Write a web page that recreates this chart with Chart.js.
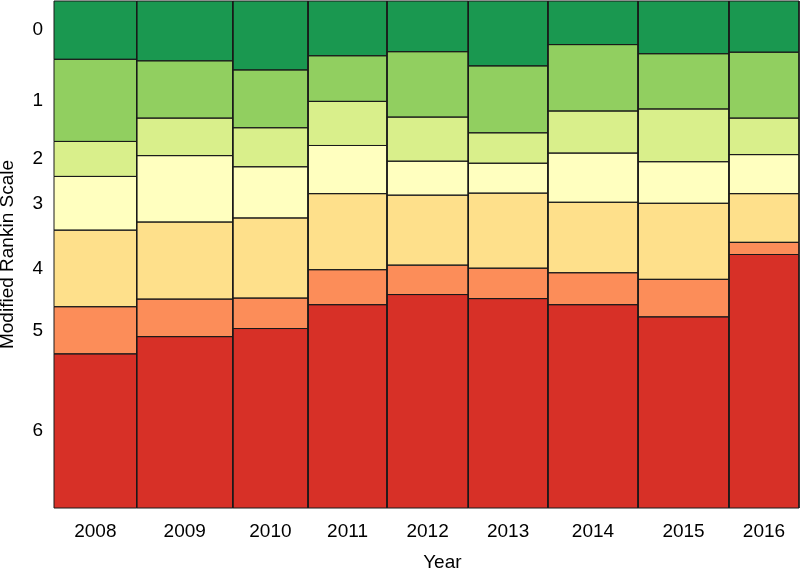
<!DOCTYPE html>
<html>
<head>
<meta charset="utf-8">
<script src="https://cdn.jsdelivr.net/npm/chart.js@4/dist/chart.umd.min.js"></script>
<style>
  html, body { margin: 0; padding: 0; background: #fff; }
</style>
</head>
<body>
<canvas id="chart" width="800" height="568"></canvas>
<script>
// Spine plot: bar width = share of patients per year, height = mRS distribution (%)
const years = ["2008", "2009", "2010", "2011", "2012", "2013", "2014", "2015", "2016"];
const yearShare = [11.1, 12.9, 10.1, 10.6, 10.9, 10.7, 12.1, 12.2, 9.4];

const mrsLabels = ["0", "1", "2", "3", "4", "5", "6"];
const mrs0 = [11.5, 11.8, 13.6, 10.8, 10.0, 12.8, 8.6, 10.4, 10.1];
const mrs1 = [16.2, 11.3, 11.4, 9.0, 12.9, 13.2, 13.1, 10.9, 13.0];
const mrs2 = [6.9, 7.4, 7.7, 8.7, 8.7, 6.0, 8.3, 10.4, 7.2];
const mrs3 = [10.6, 13.1, 10.1, 9.5, 6.7, 5.9, 9.7, 8.2, 7.7];
const mrs4 = [15.1, 15.2, 15.8, 15.0, 13.8, 14.8, 13.9, 15.0, 9.6];
const mrs5 = [9.3, 7.4, 6.0, 6.9, 5.8, 6.0, 6.3, 7.4, 2.4];
const mrs6 = [30.4, 33.8, 35.4, 40.1, 42.1, 41.3, 40.1, 37.7, 50.0];
const mrsColors = ["#1a9850", "#91cf60", "#d9ef8b", "#ffffbf", "#fee08b", "#fc8d59", "#d73027"];

const rows = [mrs0, mrs1, mrs2, mrs3, mrs4, mrs5, mrs6];

// x edges of each year column
const xEdges = [0];
yearShare.forEach((s) => xEdges.push(xEdges[xEdges.length - 1] + s));
const xCenters = years.map((_, i) => (xEdges[i] + xEdges[i + 1]) / 2);
const xMax = xEdges[xEdges.length - 1];

function colTotal(i) {
  return rows.reduce((a, r) => a + r[i], 0);
}

function cellTop(k, i) {
  let t = 0;
  for (let j = 0; j < k; j++) t += rows[j][i];
  return (t / colTotal(i)) * 100;
}

// one closed rectangle per year, gaps between them
function cellPath(k) {
  const pts = [];
  years.forEach((_, i) => {
    const top = cellTop(k, i);
    const bot = top + (rows[k][i] / colTotal(i)) * 100;
    const x0 = xEdges[i];
    const x1 = xEdges[i + 1];
    pts.push(
      { x: x0, y: top },
      { x: x1, y: top },
      { x: x1, y: bot },
      { x: x0, y: bot },
      { x: x0, y: top },
      { x: x1, y: null }
    );
  });
  return pts;
}

// y labels sit at the middle of the first column's segments
const yTicks = mrsLabels.map((_, k) => cellTop(k, 0) + (rows[k][0] / colTotal(0)) * 50);

Chart.defaults.font.family = "'Liberation Sans', Arial, Helvetica, sans-serif";
Chart.defaults.font.size = 19;
Chart.defaults.color = "#000";

const datasets = rows.map((_, k) => ({
  label: "mRS " + mrsLabels[k],
  data: cellPath(k),
  backgroundColor: mrsColors[k],
  borderColor: "#1a1a1a",
  borderWidth: 1,
  pointRadius: 0,
  tension: 0,
  fill: "shape",
  showLine: true,
  clip: 2,
}));

new Chart(document.getElementById("chart"), {
  type: "scatter",
  data: { datasets },
  options: {
    responsive: false,
    animation: false,
    layout: { autoPadding: false, padding: { left: 0, right: 1, top: 1, bottom: 0 } },
    plugins: {
      legend: { display: false },
      tooltip: { enabled: false },
      filler: { drawTime: "beforeDatasetsDraw" },
    },
    scales: {
      x: {
        type: "linear",
        min: 0,
        max: xMax,
        grid: { display: false, drawTicks: false },
        border: { display: false },
        afterBuildTicks: (scale) => {
          scale.ticks = xCenters.map((v) => ({ value: v }));
        },
        afterFit: (scale) => {
          scale.height = 60;
          scale.paddingLeft = 0;
          scale.paddingRight = 0;
        },
        ticks: {
          padding: 12,
          autoSkip: false,
          maxRotation: 0,
          callback: (v, i) => years[i],
        },
        title: {
          display: true,
          text: "      Year",
          font: { size: 19, lineHeight: 1 },
          padding: { top: 8, bottom: -4 },
        },
      },
      y: {
        type: "linear",
        min: 0,
        max: 100,
        reverse: true,
        grid: { display: false, drawTicks: false },
        border: { display: false },
        afterBuildTicks: (scale) => {
          scale.ticks = yTicks.map((v) => ({ value: v }));
        },
        afterFit: (scale) => {
          scale.width = 54;
          scale.paddingTop = 0;
          scale.paddingBottom = 0;
        },
        ticks: {
          padding: 11,
          autoSkip: false,
          callback: (v, i) => mrsLabels[i],
        },
        title: {
          display: true,
          text: "Modified Rankin Scale",
          font: { size: 19, lineHeight: 1 },
          padding: { top: -1.5, bottom: 14 },
        },
      },
    },
  },
});
</script>
</body>
</html>
